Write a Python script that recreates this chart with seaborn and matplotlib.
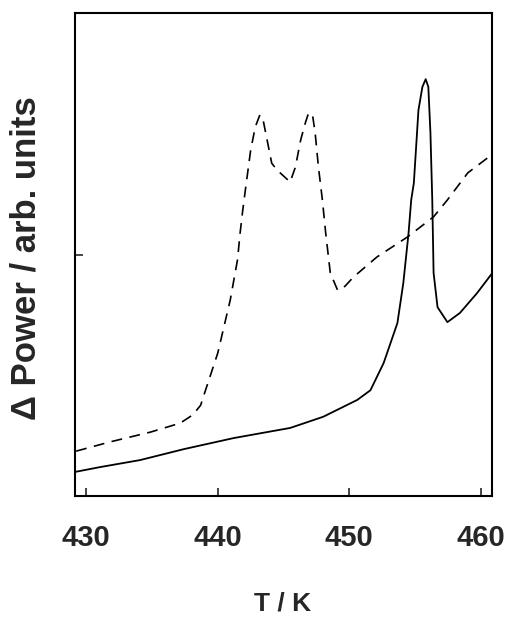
import numpy as np
import pandas as pd
import matplotlib
matplotlib.use('Agg')
import matplotlib.pyplot as plt
import seaborn as sns

sns.set_style('ticks')
plt.rcParams['font.family'] = ['Liberation Sans', 'DejaVu Sans']
plt.rcParams['font.weight'] = 'bold'

# ── データ ──────────────────────────────────────
solid_T = [429.16, 431.06, 434.1, 437.4, 441.2, 445.5, 448.0, 450.6, 451.6,
           452.6, 453.65, 454.1, 454.5, 454.7, 454.9, 455.25, 455.55, 455.8,
           456.0, 456.16, 456.3, 456.4, 456.7, 457.45, 458.4, 459.7, 460.87]
solid_P = [5.0, 6.0, 7.45, 9.7, 12.0, 14.1, 16.4, 19.9, 21.9,
           27.5, 35.8, 44.1, 54.5, 61.3, 64.8, 79.9, 84.7, 86.3,
           84.7, 75.2, 61.3, 46.2, 39.1, 36.0, 37.9, 42.0, 46.2]

dash_T = [429.24, 431.8, 434.9, 437.15, 438.1, 438.7, 438.9, 440.0, 440.95,
          441.5, 441.7, 441.9, 442.1, 442.5, 442.85, 443.2, 443.45, 443.75,
          444.1, 444.5, 445.5, 445.9, 446.3, 446.65, 446.9, 447.2, 447.4,
          447.65, 447.95, 448.2, 448.55, 449.1, 449.55, 450.3, 452.1, 454.4,
          456.4, 457.45, 459.0, 460.6]
dash_P = [9.3, 11.2, 13.25, 15.1, 16.8, 18.8, 20.5, 29.6, 40.6,
          48.9, 54.5, 59.2, 63.4, 71.6, 76.4, 78.9, 77.8, 73.7,
          68.9, 67.5, 65.0, 68.1, 73.7, 77.2, 79.3, 78.9, 75.2,
          68.1, 61.3, 54.5, 46.2, 42.65, 43.1, 45.3, 49.5, 53.6,
          57.8, 61.3, 66.9, 70.2]

x_ticks = [430, 440, 450, 460]
y_ticks = [50]

fig = plt.figure(figsize=(5.10, 6.17), dpi=100)
ax = fig.add_axes([0.147, 0.196, 0.818, 0.783])

sns.lineplot(x=solid_T, y=solid_P, ax=ax, color='black', linewidth=1.3,
             sort=False, estimator=None)
sns.lineplot(x=dash_T, y=dash_P, ax=ax, color='black', linewidth=1.2,
             sort=False, estimator=None)
ax.lines[-1].set_dashes((6.5, 4.5))

ax.set_xlim(429.15, 460.85)
ax.set_ylim(0, 100)
ax.set_xticks(x_ticks)
ax.set_yticks(y_ticks)
ax.set_yticklabels([])
ax.tick_params(direction='in', length=6, width=1.2, labelsize=21, pad=20)
for s in ax.spines.values():
    s.set_linewidth(1.5)
    s.set_color('black')

ax.set_xlabel('T / K', fontsize=19, fontweight='bold', va='baseline')
ax.xaxis.set_label_coords(0.497, -0.236)
ax.set_ylabel('Δ Power / arb. units', fontsize=25, fontweight='bold')
ax.yaxis.set_label_coords(-0.079, 0.493)

plt.savefig('out.png', dpi=100)
